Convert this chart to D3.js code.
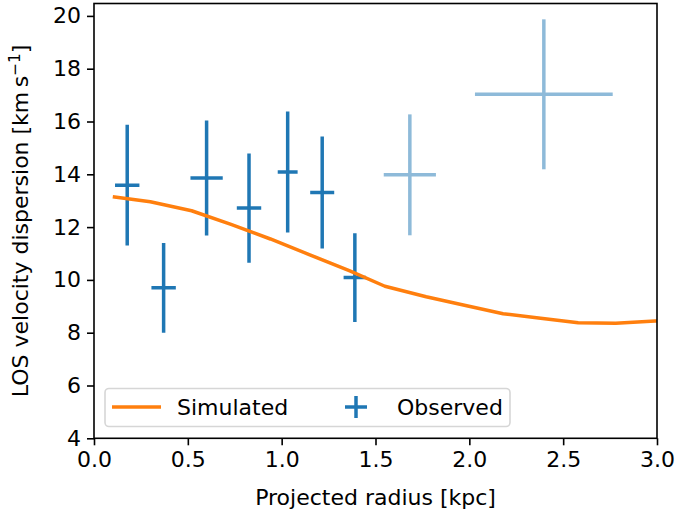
<!DOCTYPE html>
<html><head><meta charset="utf-8">
<script src="https://cdn.jsdelivr.net/npm/d3@7"></script>
<style>body{margin:0;background:#fff;} text{font-family:"DejaVu Sans",sans-serif;fill:#000;}</style>
</head><body><svg id="c" width="677" height="517"></svg>
<script>
// Simulated profile
const simR   = [0.10, 0.30, 0.52, 0.73, 0.94, 1.15, 1.36, 1.55, 1.77, 1.98, 2.18, 2.38, 2.58, 2.78, 2.99, 3.20];
const simSig = [13.15,12.96,12.62,12.10,11.55,10.95,10.35,9.76, 9.36, 9.03, 8.72, 8.55, 8.38, 8.36, 8.44, 8.52];
// Observed bins
const obsR    = [0.177, 0.371, 0.600, 0.826, 1.032, 1.216, 1.390, 1.683, 2.397];
const obsRerr = [0.065, 0.065, 0.086, 0.065, 0.053, 0.064, 0.060, 0.139, 0.367];
const obsSig  = [13.59, 9.70, 13.86, 12.72, 14.09, 13.31, 10.09, 13.98, 17.03];
const obsErr  = [2.29, 1.70, 2.18, 2.07, 2.29, 2.12, 1.68, 2.29, 2.84];
const obsFaded= [false,false,false,false,false,false,false,true,true];
const xTicks = [0,0.5,1.0,1.5,2.0,2.5,3.0];
const yTicks = [4,6,8,10,12,14,16,18,20];

const blue = "#1f77b4", orange = "#ff7f0e";
const L = 94, R = 657, T = 3.5, B = 438.3;
const svg = d3.select("#c");
const x = d3.scaleLinear().domain([0,3]).range([L,R]);
const y = d3.scaleLinear().domain([4,20.47]).range([B,T]);
const fs = 22;

svg.append("defs").append("clipPath").attr("id","clip")
  .append("rect").attr("x",L).attr("y",T).attr("width",R-L).attr("height",B-T);

const plot = svg.append("g").attr("clip-path","url(#clip)");
// error bars
obsR.forEach((r,i)=>{
  const g = plot.append("g").attr("stroke", blue).attr("stroke-width",3.5)
    .attr("opacity", obsFaded[i]?0.5:1);
  g.append("line").attr("x1",x(r-obsRerr[i])).attr("x2",x(r+obsRerr[i]))
    .attr("y1",y(obsSig[i])).attr("y2",y(obsSig[i]));
  g.append("line").attr("x1",x(r)).attr("x2",x(r))
    .attr("y1",y(obsSig[i]-obsErr[i])).attr("y2",y(obsSig[i]+obsErr[i]));
});
// simulated line
plot.append("path").datum(simR.map((r,i)=>[r,simSig[i]]))
  .attr("d", d3.line().x(d=>x(d[0])).y(d=>y(d[1])))
  .attr("fill","none").attr("stroke",orange).attr("stroke-width",3.5)
  .attr("stroke-linejoin","round");

// axes
const xa = svg.append("g").attr("transform",`translate(0,${B})`)
  .call(d3.axisBottom(x).tickValues(xTicks).tickFormat(d3.format(".1f")).tickSize(7).tickPadding(6));
const ya = svg.append("g").attr("transform",`translate(${L},0)`)
  .call(d3.axisLeft(y).tickValues(yTicks).tickSize(7).tickPadding(6));
[xa,ya].forEach(a=>{
  a.select(".domain").remove();
  a.selectAll(".tick line").attr("stroke","#000").attr("stroke-width",1.6);
  a.selectAll(".tick text").attr("font-size",fs).attr("font-family","DejaVu Sans");
});
// frame
svg.append("rect").attr("x",L).attr("y",T).attr("width",R-L).attr("height",B-T)
  .attr("fill","none").attr("stroke","#000").attr("stroke-width",1.6);

// labels
svg.append("text").attr("x",(L+R)/2).attr("y",505).attr("text-anchor","middle")
  .attr("font-size",fs).text("Projected radius [kpc]");
const yl = svg.append("text").attr("transform",`translate(28,${(T+B)/2}) rotate(-90)`)
  .attr("text-anchor","middle").attr("font-size",fs);
yl.append("tspan").text("LOS velocity dispersion [km\u2009s");
yl.append("tspan").attr("dy",-8).attr("font-size",fs*0.7).text("\u22121");
yl.append("tspan").attr("dy",8).text("]");

// legend
const lg = svg.append("g");
lg.append("rect").attr("x",105).attr("y",388.5).attr("width",405).attr("height",38)
  .attr("rx",4).attr("fill","#fff").attr("fill-opacity",0.8).attr("stroke","#d6d6d6").attr("stroke-width",1.6);
lg.append("line").attr("x1",112).attr("x2",161).attr("y1",407).attr("y2",407)
  .attr("stroke",orange).attr("stroke-width",3.5);
lg.append("text").attr("x",177).attr("y",415).attr("font-size",fs).text("Simulated");
lg.append("line").attr("x1",345).attr("x2",367).attr("y1",407).attr("y2",407).attr("stroke",blue).attr("stroke-width",3.5);
lg.append("line").attr("x1",356).attr("x2",356).attr("y1",396).attr("y2",418).attr("stroke",blue).attr("stroke-width",3.5);
lg.append("text").attr("x",397).attr("y",415).attr("font-size",fs).text("Observed");
</script></body></html>
